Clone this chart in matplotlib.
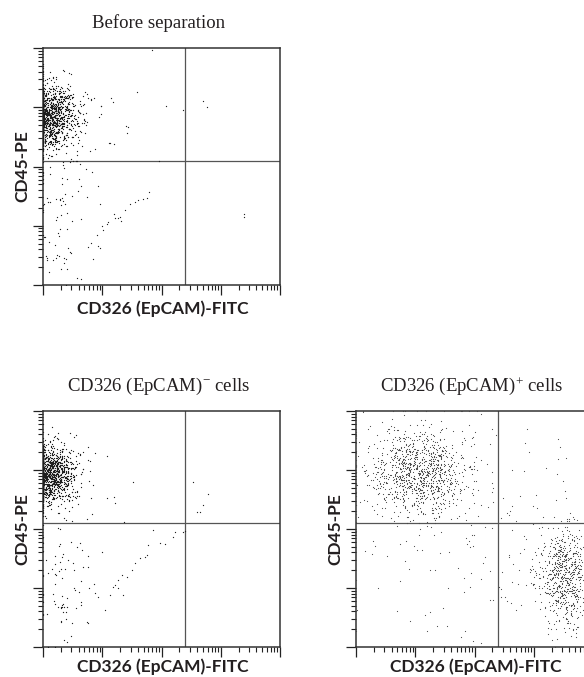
import numpy as np
import matplotlib
matplotlib.use('Agg')
import matplotlib.pyplot as plt
from matplotlib.ticker import LogLocator, NullFormatter

W, H = 584, 677

plt.rcParams['mathtext.fontset'] = 'custom'
plt.rcParams['mathtext.rm'] = 'Liberation Serif'
plt.rcParams['mathtext.it'] = 'Liberation Serif:italic'

# quadrant gates, log10 units
GATE_X = 3.4
GATE_Y = 3.1

# populations: centre / spread in log10 units and event count
before_cx = [1.08, 1.30, 1.25, 1.90]
before_cy = [3.85, 2.40, 1.45, 3.70]
before_sx = [0.25, 0.35, 0.18, 0.55]
before_sy = [0.27, 0.45, 0.30, 0.40]
before_n = [1300, 55, 25, 12]

# single events (streak and outliers)
before_ex = [1.76, 1.91, 2.01, 2.10, 2.22, 2.30, 2.38, 2.47, 2.55, 2.60, 2.69, 2.76, 2.79,
             1.84, 1.81, 2.08, 2.27, 2.32,
             1.34, 2.15, 2.18, 2.40, 3.08, 3.36, 2.13, 2.84, 1.76, 1.86, 1.95,
             3.70, 3.77, 4.39, 4.39]
before_ey = [1.64, 1.84, 1.93, 2.06, 2.13, 2.15, 2.27, 2.37, 2.40, 2.43, 2.45, 2.47, 2.57,
             1.44, 1.71, 2.03, 2.13, 2.08,
             4.63, 4.16, 4.09, 3.68, 4.02, 3.95, 3.40, 4.97, 4.16, 4.16, 3.84,
             4.11, 4.00, 2.20, 2.15]

neg_cx = [1.08, 1.35, 1.25, 1.90]
neg_cy = [3.92, 2.40, 1.45, 3.80]
neg_sx = [0.24, 0.35, 0.18, 0.50]
neg_sy = [0.25, 0.45, 0.30, 0.35]
neg_n = [1250, 60, 25, 12]

neg_ex = [1.88, 1.93, 2.05, 2.13, 2.22, 2.27, 2.33, 2.42, 2.50, 2.55, 2.64, 2.72, 2.76, 2.77,
          2.86, 2.97, 3.06, 3.19, 3.23, 3.36, 2.27, 2.18,
          3.60, 3.65, 3.70, 3.78, 2.52, 2.08, 1.88, 2.37, 3.40]
neg_ey = [1.92, 1.85, 1.63, 1.88, 2.05, 2.14, 2.22, 2.19, 2.31, 2.42, 2.51, 2.53, 2.56, 2.73,
          2.98, 2.76, 2.75, 2.86, 2.95, 2.95, 2.00, 2.02,
          3.29, 3.29, 3.41, 3.59, 3.80, 4.24, 4.29, 3.12, 2.97]

pos_cx = [2.05, 2.00, 4.52, 4.10, 2.50, 4.20]
pos_cy = [3.95, 3.95, 2.20, 2.20, 2.00, 3.80]
pos_sx = [0.38, 0.75, 0.20, 0.40, 0.80, 0.50]
pos_sy = [0.34, 0.55, 0.42, 0.50, 0.55, 0.50]
pos_n = [850, 220, 600, 60, 55, 22]

pos_ex = [2.85, 2.90, 2.95, 2.88, 2.92, 3.55, 3.60, 3.58]
pos_ey = [2.85, 2.80, 2.90, 2.75, 2.70, 3.27, 3.30, 3.24]

titles = ['Before separation', r'CD326 (EpCAM)$^{-}$ cells', r'CD326 (EpCAM)$^{+}$ cells']
dot_colors = ['#1e1e1e', '#1e1e1e', '#474747']
dot_sizes = [0.85, 0.85, 0.7]
XLABEL = 'CD326 (EpCAM)-FITC'
YLABEL = 'CD45-PE'


def fig_xy(px, py):
    return px / W, 1 - py / H


def make_events(rng, cx, cy, sx, sy, n, ex, ey):
    xs, ys = [np.array(ex)], [np.array(ey)]
    for i in range(len(n)):
        xs.append(rng.normal(cx[i], sx[i], n[i]))
        ys.append(rng.normal(cy[i], sy[i], n[i]))
    x = np.clip(np.concatenate(xs), 1.0, 5.0)
    y = np.clip(np.concatenate(ys), 1.0, 5.0)
    return 10 ** x, 10 ** y


def style_axes(ax):
    ax.set_xscale('log')
    ax.set_yscale('log')
    ax.set_xlim(10, 1e5)
    ax.set_ylim(10, 1e5)
    for axis in (ax.xaxis, ax.yaxis):
        axis.set_major_locator(LogLocator(base=10, numticks=10))
        axis.set_minor_locator(LogLocator(base=10, subs=np.arange(2, 10), numticks=10))
        axis.set_major_formatter(NullFormatter())
        axis.set_minor_formatter(NullFormatter())
    ax.tick_params(which='major', direction='out', length=7, width=0.9, color='#222')
    ax.tick_params(which='minor', direction='out', length=3.6, width=0.8, color='#222')
    for sp in ax.spines.values():
        sp.set_linewidth(1.1)
        sp.set_color('#333')
    ax.axvline(10 ** GATE_X, color='#555', lw=0.9)
    ax.axhline(10 ** GATE_Y, color='#555', lw=0.9)


def main():
    rng = np.random.default_rng(11)
    fig = plt.figure(figsize=(W / 100, H / 100), dpi=100)

    # (left, top, bottom) in pixels, plus data
    panels = [
        (43, 48, 285, before_cx, before_cy, before_sx, before_sy, before_n, before_ex, before_ey),
        (43, 411, 647, neg_cx, neg_cy, neg_sx, neg_sy, neg_n, neg_ex, neg_ey),
        (356, 411, 647, pos_cx, pos_cy, pos_sx, pos_sy, pos_n, pos_ex, pos_ey),
    ]
    side = 237

    for i, (left, top, bottom, cx, cy, sx, sy, n, ex, ey) in enumerate(panels):
        l, b = fig_xy(left, bottom)
        ax = fig.add_axes([l, b, side / W, (bottom - top) / H])
        style_axes(ax)
        x, y = make_events(rng, cx, cy, sx, sy, n, ex, ey)
        ax.scatter(x, y, s=dot_sizes[i], c=dot_colors[i], marker='o', linewidths=0, zorder=3)

        cx_px = left + side / 2
        tx, ty = fig_xy(cx_px - 3, top - 20)
        fig.text(tx, ty, titles[i], ha='center', va='baseline',
                 family='Liberation Serif', fontsize=13.5, color='#231f20')
        lx, ly = fig_xy(cx_px + 1, min(bottom + 24, 667))
        fig.text(lx, ly, XLABEL, ha='center', va='center',
                 family='Lato', weight='bold', fontsize=12.5, color='#231f20')
        yx, yy = fig_xy(left - 21, (top + bottom) / 2)
        fig.text(yx, yy, YLABEL, ha='center', va='center', rotation=90,
                 family='Lato', weight='bold', fontsize=12.5, color='#231f20')

    fig.savefig('out.png', dpi=100)


if __name__ == '__main__':
    main()
